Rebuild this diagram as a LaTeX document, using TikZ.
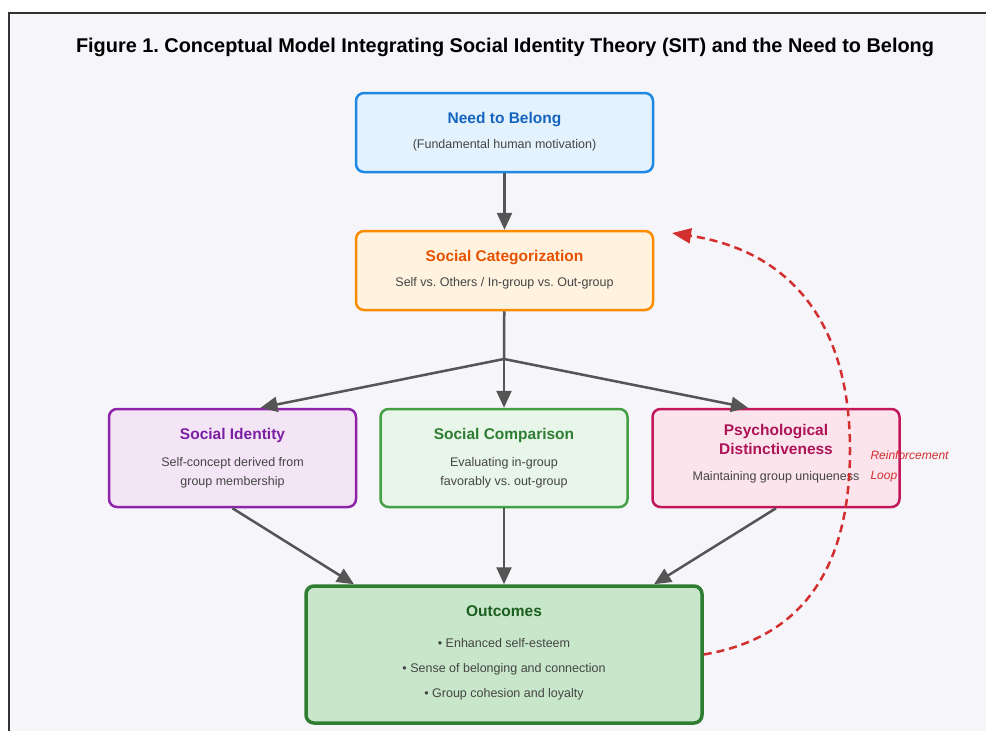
\documentclass[tikz,border=0pt]{standalone}
\usepackage{fontspec}
\setmainfont{Liberation Sans}
\usetikzlibrary{arrows.meta}
\frenchspacing
\definecolor{framebg}{HTML}{F5F5FA}
\definecolor{framedraw}{HTML}{333333}
\definecolor{bodygray}{HTML}{444444}
\definecolor{arrowgray}{HTML}{555555}
\definecolor{needdraw}{HTML}{1E88E5}
\definecolor{needfill}{HTML}{E3F2FD}
\definecolor{needtext}{HTML}{1565C0}
\definecolor{catdraw}{HTML}{FB8C00}
\definecolor{catfill}{HTML}{FFF3E0}
\definecolor{cattext}{HTML}{E65100}
\definecolor{identdraw}{HTML}{8E24AA}
\definecolor{identfill}{HTML}{F3E5F5}
\definecolor{identtext}{HTML}{7B1FA2}
\definecolor{compdraw}{HTML}{43A047}
\definecolor{compfill}{HTML}{E8F5E9}
\definecolor{comptext}{HTML}{2E7D32}
\definecolor{distdraw}{HTML}{C2185B}
\definecolor{distfill}{HTML}{FCE4EC}
\definecolor{disttext}{HTML}{AD1457}
\definecolor{outcdraw}{HTML}{2E7D32}
\definecolor{outcfill}{HTML}{C8E6C9}
\definecolor{outctext}{HTML}{1B5E20}
\definecolor{loopred}{HTML}{D32F2F}
\newcommand\boxtitle[2]{{\color{#1}\fontsize{15.5}{19}\selectfont\bfseries #2}}
\newcommand\lift[1]{\rule[-#1]{0pt}{0pt}}
\begin{document}
\begin{tikzpicture}[x=1pt,y=-1pt,
    box/.style 2 args={draw=#1, fill=#2, rounded corners=8pt, line width=2.5pt,
      align=center, inner sep=0pt, text=bodygray,
      font=\fontsize{12.5}{19}\selectfont},
    wide/.style={minimum width=297pt, minimum height=79pt},
    mid/.style={minimum width=247pt, minimum height=98pt},
    flow/.style={draw=arrowgray, line width=2.5pt},
    tip/.style={-{Triangle[length=17pt,width=15pt]}}]
  \useasboundingbox (0,0) rectangle (986,731);
  \clip (0,0) rectangle (986,731);
  \draw[framedraw, fill=framebg, line width=2pt] (9,13) rectangle (1000,745);
  \node (title) at (505,47.5)
    {\fontsize{19.9}{22}\selectfont\bfseries Figure 1. Conceptual Model Integrating Social Identity Theory (SIT) and the Need to Belong};
  \node[box={needdraw}{needfill}, wide] (need) at (504.5,132.5)
    {\boxtitle{needtext}{Need to Belong}\\[6pt](Fundamental human motivation)\lift{4pt}};
  \node[box={catdraw}{catfill}, wide] (cat) at (504.5,270.5)
    {\boxtitle{cattext}{Social Categorization}\\[6pt]Self vs. Others / In-group vs. Out-group\lift{4pt}};
  \node[box={identdraw}{identfill}, mid] (ident) at (232.5,458)
    {\boxtitle{identtext}{Social Identity}\\[8pt]Self-concept derived from\\group membership\lift{3pt}};
  \node[box={compdraw}{compfill}, mid] (comp) at (504,458)
    {\boxtitle{comptext}{Social Comparison}\\[8pt]Evaluating in-group\\favorably vs. out-group\lift{3pt}};
  \node[box={distdraw}{distfill}, mid] (dist) at (776,458)
    {\boxtitle{disttext}{Psychological}\\\boxtitle{disttext}{Distinctiveness}\\[7pt]Maintaining group uniqueness\lift{11pt}};
  \node[box={outcdraw}{outcfill}, line width=3.5pt, minimum width=396pt, minimum height=137pt]
    (outc) at (504,654.5)
    {\boxtitle{outctext}{Outcomes}\\[12pt]\textbullet{} Enhanced self-esteem\\[6pt]%
     \textbullet{} Sense of belonging and connection\\[6pt]\textbullet{} Group cohesion and loyalty\lift{6pt}};
  \coordinate (split) at (504,359);
  \coordinate (loopmid) at (850,450);
  \coordinate (looptip) at (672,233);
  \draw[flow, tip] (need) -- (cat);
  \draw[flow] (cat) -- (split);
  \draw[flow, tip] (split) -- ([xshift=28pt]ident.north);
  \draw[flow, tip] (split) -- (comp);
  \draw[flow, tip] (split) -- ([xshift=-28pt]dist.north);
  \draw[flow, tip] (ident.south) -- ([xshift=-150pt]outc.north);
  \draw[flow, tip] (comp) -- (outc);
  \draw[flow, tip] (dist.south) -- ([xshift=150pt]outc.north);
  % reinforcement loop
  \draw[loopred, line width=2.5pt, dash pattern=on 8pt off 5pt,
      -{Triangle[length=19pt,width=15pt]}]
    (outc.east) .. controls (800.7,638.3) and (850,570) .. (loopmid)
    .. controls (850,323.3) and (790.7,251) .. (looptip);
  \node[anchor=west, align=left, text=loopred, font=\fontsize{12}{20}\selectfont\itshape]
    (looplbl) at (867,466) {Reinforcement\\Loop};
\end{tikzpicture}
\end{document}
